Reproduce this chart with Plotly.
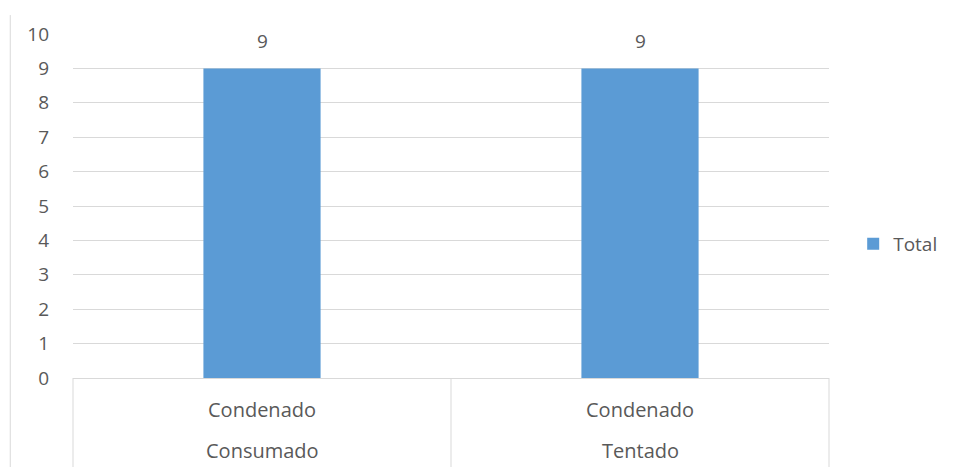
import plotly.graph_objects as go

categories = ["Condenado Consumado", "Condenado Tentado"]
inner_labels = ["Condenado", "Condenado"]
outer_labels = ["Consumado", "Tentado"]
values = [9, 9]
series_name = "Total"
y_ticks = list(range(0, 11))

BAR = "#5B9BD5"
GRID = "#D9D9D9"
TXT = "#595959"
FONT = "Open Sans"

fig = go.Figure()
fig.add_trace(go.Bar(
    x=list(range(len(categories))), y=values, name=series_name,
    marker=dict(color=BAR, line=dict(width=0)), width=0.31,
    hovertext=categories,
))

# data labels
for i, v in enumerate(values):
    fig.add_annotation(x=i, y=v, xref="x", yref="y", text=str(v), showarrow=False,
                       yanchor="bottom", yshift=12, font=dict(family=FONT, size=19, color=TXT))

# two-level category labels
for i, (a, b) in enumerate(zip(inner_labels, outer_labels)):
    fig.add_annotation(x=i, y=0, xref="x", yref="y", text=a, showarrow=False,
                       yanchor="middle", yshift=-31, font=dict(family=FONT, size=20, color=TXT))
    fig.add_annotation(x=i, y=0, xref="x", yref="y", text=b, showarrow=False,
                       yanchor="middle", yshift=-72, font=dict(family=FONT, size=20, color=TXT))

# category box dividers
n = len(categories)
for k in range(n + 1):
    fig.add_shape(type="line", xref="paper", yref="paper", x0=k / n, x1=k / n,
                  y0=0, y1=-0.27, line=dict(color=GRID, width=1))

# outer chart border (left)
fig.add_shape(type="line", xref="paper", yref="paper", x0=-0.083, x1=-0.083,
              y0=1.055, y1=-0.27, line=dict(color=GRID, width=1))

fig.update_layout(
    width=955, height=467,
    margin=dict(l=73, r=126, t=34, b=89),
    paper_bgcolor="white", plot_bgcolor="white",
    font=dict(family=FONT, size=19, color=TXT),
    showlegend=True,
    legend=dict(x=1.032, y=0.39, xanchor="left", yanchor="middle",
                font=dict(family=FONT, size=19, color=TXT),
                itemwidth=30, bgcolor="rgba(0,0,0,0)"),
    xaxis=dict(range=[-0.5, n - 0.5], showticklabels=False, showgrid=False,
               zeroline=False, showline=True, linecolor=GRID, linewidth=1, ticks=""),
    yaxis=dict(range=[0, 10], tickvals=y_ticks, showgrid=True, gridcolor=GRID,
               gridwidth=1, zeroline=False, showline=False, ticks="",
               ticklabelstandoff=23, tickfont=dict(family=FONT, size=19, color=TXT)),
)

fig.write_html("out.html")
